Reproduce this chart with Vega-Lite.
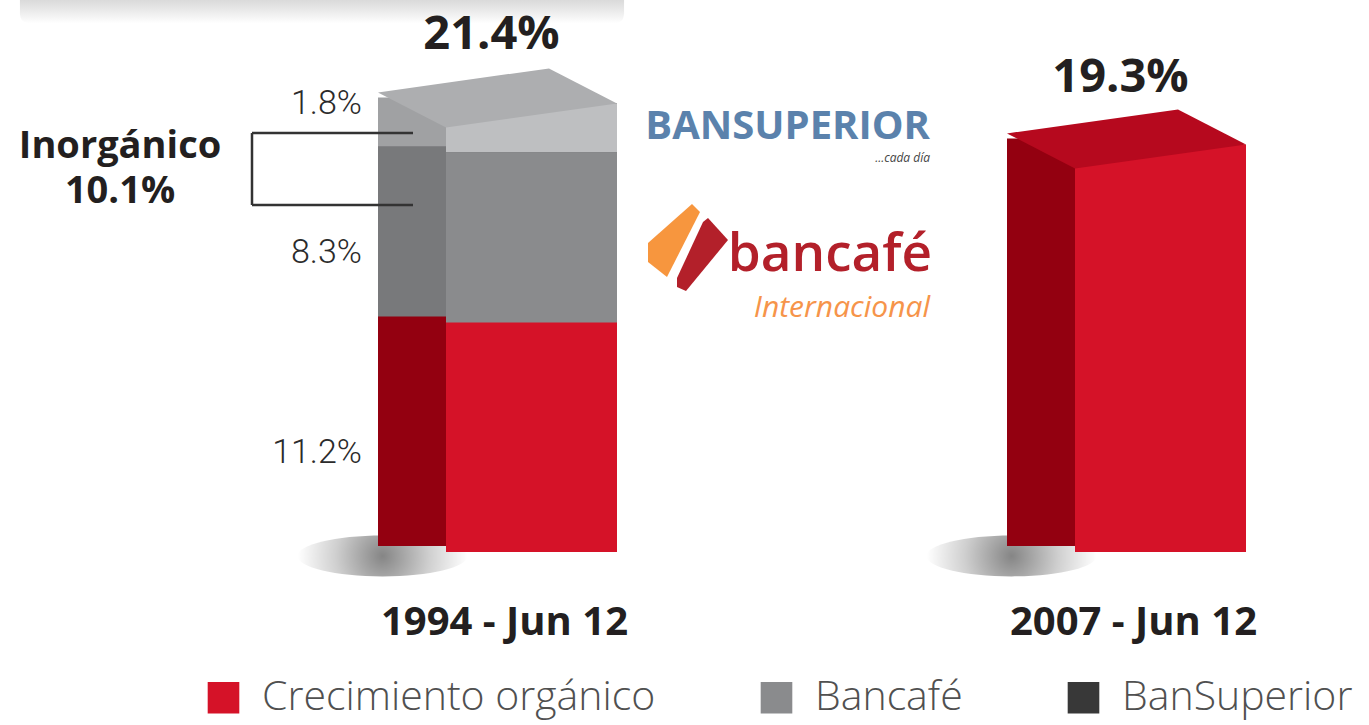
{
  "$schema": "https://vega.github.io/schema/vega-lite/v6.json",
  "width": 1369,
  "height": 725,
  "autosize": {"type": "none"},
  "padding": 0,
  "background": "#ffffff",
  "config": {"view": {"stroke": null}, "font": "Open Sans"},
  "datasets": {
    "growth": [
      {"category": "1994 - Jun 12", "series": "Crecimiento orgánico", "value": 11.2},
      {"category": "1994 - Jun 12", "series": "Bancafé", "value": 8.3},
      {"category": "1994 - Jun 12", "series": "BanSuperior", "value": 1.8},
      {"category": "2007 - Jun 12", "series": "Crecimiento orgánico", "value": 19.3}
    ],
    "totals": [
      {"category": "1994 - Jun 12", "total": 21.4},
      {"category": "2007 - Jun 12", "total": 19.3}
    ]
  },
  "data": {"name": "growth"},
  "transform": [
    {"calculate": "indexof(['Crecimiento orgánico','Bancafé','BanSuperior'], datum.series)", "as": "ord"},
    {"stack": "value", "groupby": ["category"], "sort": [{"field": "ord", "order": "ascending"}], "as": ["v0", "v1"]},
    {"calculate": "(datum.v0 + datum.v1) / 2", "as": "mid"},
    {"joinaggregate": [{"op": "max", "field": "ord", "as": "maxOrd"}], "groupby": ["category"]}
  ],
  "encoding": {
    "x": {"field": "category", "type": "nominal", "scale": {"domain": ["1994 - Jun 12", "2007 - Jun 12"], "range": [183, 1441], "paddingInner": 0, "paddingOuter": 0}, "axis": null}
  },
  "layer": [
    {
      "transform": [{"filter": "datum.series === 'BanSuperior'"}],
      "mark": {"type": "point", "shape": "M-0.863,-0.06 L0.863,-0.06 L0.863,0.02 Q0.863,0.05 0.83,0.05 L-0.83,0.05 Q-0.863,0.05 -0.863,0.02 Z", "size": 490000, "filled": true, "opacity": 1, "strokeWidth": 0, "xOffset": -175.5, "yOffset": 6,
        "fill": {"gradient": "linear", "x1": 0, "y1": 0, "x2": 0, "y2": 1, "stops": [{"offset": 0, "color": "#c4c4c4"}, {"offset": 0.6, "color": "#e6e6e6"}, {"offset": 1, "color": "#ffffff"}]}},
      "encoding": {"y": {"datum": 26.93, "type": "quantitative", "scale": {"domain": [-8.44, 26.93], "nice": false, "zero": false}, "axis": null}}
    },
    {
      "transform": [{"filter": "datum.series === 'Crecimiento orgánico'"}],
      "mark": {"type": "point", "shape": "M-1,0 A1,0.24 0 1,0 1,0 A1,0.24 0 1,0 -1,0 Z", "size": 28900, "filled": true, "opacity": 1, "strokeWidth": 0, "xOffset": -115, "yOffset": 4,
        "fill": {"gradient": "radial", "x1": 0.5, "y1": 0.5, "r1": 0, "x2": 0.5, "y2": 0.5, "r2": 0.5, "stops": [{"offset": 0, "color": "#858585"}, {"offset": 0.55, "color": "#cfcfcf"}, {"offset": 1, "color": "#ffffff"}]}},
      "encoding": {"y": {"datum": 0, "type": "quantitative", "scale": {"domain": [-8.44, 26.93], "nice": false, "zero": false}, "axis": null}}
    },
    {
      "mark": {"type": "bar", "width": 68, "xOffset": -85.5, "yOffset": -18, "y2Offset": -6},
      "encoding": {
        "y": {"field": "v1", "type": "quantitative", "scale": {"domain": [-8.44, 26.93], "nice": false, "zero": false}, "axis": null},
        "y2": {"field": "v0"},
        "fill": {"condition": [{"test": "datum.series === 'Crecimiento orgánico'", "value": "#930010"}, {"test": "datum.series === 'Bancafé'", "value": "#78797B"}], "value": "#A0A1A3"}
      }
    },
    {
      "mark": {"type": "bar", "width": 171, "xOffset": 34, "yOffset": -12},
      "encoding": {
        "y": {"field": "v1", "type": "quantitative", "scale": {"domain": [-8.44, 26.93], "nice": false, "zero": false}, "axis": null},
        "y2": {"field": "v0"},
        "color": {"field": "series", "type": "nominal",
          "scale": {"domain": ["Crecimiento orgánico", "Bancafé", "BanSuperior"], "range": ["#D51228", "#8A8B8D", "#383838"]},
          "legend": {"title": null, "orient": "none", "legendX": 203, "legendY": 677, "direction": "horizontal", "symbolType": "square", "symbolSize": 1000, "symbolStrokeWidth": 0, "symbolOpacity": 1, "labelFont": "Open Sans", "labelFontWeight": 300, "labelFontSize": 41, "labelColor": "#505050", "labelLimit": 0, "labelOffset": 18, "columnPadding": 100, "padding": 0}}
      }
    },
    {
      "transform": [{"filter": "datum.series === 'BanSuperior'"}],
      "mark": {"type": "bar", "width": 171, "xOffset": 34, "yOffset": -12, "color": "#BEBFC1"},
      "encoding": {
        "y": {"field": "v1", "type": "quantitative", "scale": {"domain": [-8.44, 26.93], "nice": false, "zero": false}, "axis": null},
        "y2": {"field": "v0"}
      }
    },
    {
      "transform": [{"filter": "datum.ord === datum.maxOrd"}],
      "mark": {"type": "point", "shape": "M-0.996,-0.05 L-0.429,0.242 L0.996,0.042 L0.429,-0.25 Z", "size": 57600, "filled": true, "opacity": 1, "strokeWidth": 0, "yOffset": -17},
      "encoding": {
        "y": {"field": "v1", "type": "quantitative", "scale": {"domain": [-8.44, 26.93], "nice": false, "zero": false}, "axis": null},
        "fill": {"condition": {"test": "datum.series === 'BanSuperior'", "value": "#ADAEB0"}, "value": "#B6091E"}
      }
    },
    {
      "data": {"name": "totals"},
      "transform": [{"calculate": "format(datum.total, '.1f') + '%'", "as": "label"}],
      "mark": {"type": "text", "font": "Open Sans", "fontWeight": "bold", "fontSize": 47, "color": "#231F20", "dy": -64, "baseline": "alphabetic", "xOffset": -6},
      "encoding": {
        "y": {"field": "total", "type": "quantitative", "scale": {"domain": [-8.44, 26.93], "nice": false, "zero": false}, "axis": null},
        "text": {"field": "label"}
      }
    },
    {
      "transform": [{"filter": "datum.category === '1994 - Jun 12' && datum.series !== 'BanSuperior'"}, {"calculate": "format(datum.value, '.1f') + '%'", "as": "label"}],
      "mark": {"type": "text", "align": "right", "baseline": "middle", "dx": -135.5, "dy": 16, "fontSize": 34, "font": "Roboto", "fontWeight": 300, "color": "#2b2b2b"},
      "encoding": {
        "y": {"field": "mid", "type": "quantitative", "scale": {"domain": [-8.44, 26.93], "nice": false, "zero": false}, "axis": null},
        "text": {"field": "label"}
      }
    },
    {
      "transform": [{"filter": "datum.series === 'BanSuperior'"}, {"calculate": "format(datum.value, '.1f') + '%'", "as": "label"}],
      "mark": {"type": "text", "align": "right", "baseline": "middle", "dx": -135.5, "dy": -30, "fontSize": 34, "font": "Roboto", "fontWeight": 300, "color": "#2b2b2b"},
      "encoding": {
        "y": {"field": "mid", "type": "quantitative", "scale": {"domain": [-8.44, 26.93], "nice": false, "zero": false}, "axis": null},
        "text": {"field": "label"}
      }
    },
    {
      "transform": [{"filter": "datum.series === 'Crecimiento orgánico'"}],
      "mark": {"type": "text", "fontSize": 40, "fontWeight": "bold", "font": "Open Sans", "color": "#231F20", "dy": 71, "dx": 7, "baseline": "middle"},
      "encoding": {
        "y": {"datum": 0, "type": "quantitative", "scale": {"domain": [-8.44, 26.93], "nice": false, "zero": false}, "axis": null},
        "text": {"field": "category"}
      }
    },
    {
      "transform": [{"filter": "datum.series === 'BanSuperior'"}],
      "mark": {"type": "rule", "color": "#333333", "strokeWidth": 2.5, "xOffset": -245.5, "x2Offset": -84.5},
      "encoding": {
        "x2": {"field": "category"},
        "y": {"datum": 20.44, "type": "quantitative", "scale": {"domain": [-8.44, 26.93], "nice": false, "zero": false}, "axis": null}
      }
    },
    {
      "transform": [{"filter": "datum.series === 'BanSuperior'"}],
      "mark": {"type": "rule", "color": "#333333", "strokeWidth": 2.5, "xOffset": -245.5, "x2Offset": -84.5},
      "encoding": {
        "x2": {"field": "category"},
        "y": {"datum": 16.93, "type": "quantitative", "scale": {"domain": [-8.44, 26.93], "nice": false, "zero": false}, "axis": null}
      }
    },
    {
      "transform": [{"filter": "datum.series === 'BanSuperior'"}],
      "mark": {"type": "rule", "color": "#333333", "strokeWidth": 2.5, "xOffset": -245.5},
      "encoding": {
        "y": {"datum": 20.44, "type": "quantitative", "scale": {"domain": [-8.44, 26.93], "nice": false, "zero": false}, "axis": null},
        "y2": {"datum": 16.93}
      }
    },
    {
      "transform": [{"filter": "datum.series === 'BanSuperior'"}],
      "mark": {"type": "text", "text": "Inorgánico", "fontSize": 38, "fontWeight": "bold", "font": "Open Sans", "color": "#231F20", "align": "center", "baseline": "middle", "dx": -377.5, "dy": -405},
      "encoding": {"y": {"datum": 0, "type": "quantitative", "scale": {"domain": [-8.44, 26.93], "nice": false, "zero": false}, "axis": null}}
    },
    {
      "transform": [{"filter": "datum.series === 'BanSuperior'"}],
      "mark": {"type": "text", "text": "10.1%", "fontSize": 38, "fontWeight": "bold", "font": "Open Sans", "color": "#231F20", "align": "center", "baseline": "middle", "dx": -377.5, "dy": -360},
      "encoding": {"y": {"datum": 0, "type": "quantitative", "scale": {"domain": [-8.44, 26.93], "nice": false, "zero": false}, "axis": null}}
    },
    {
      "transform": [{"filter": "datum.series === 'BanSuperior'"}],
      "mark": {"type": "text", "text": "BANSUPERIOR", "fontSize": 40, "fontWeight": "bold", "font": "Open Sans", "color": "#5B82AC", "align": "right", "baseline": "alphabetic", "dx": 432.5, "dy": -413},
      "encoding": {"y": {"datum": 0, "type": "quantitative", "scale": {"domain": [-8.44, 26.93], "nice": false, "zero": false}, "axis": null}}
    },
    {
      "transform": [{"filter": "datum.series === 'BanSuperior'"}],
      "mark": {"type": "text", "text": "...cada día", "fontSize": 12, "fontStyle": "italic", "font": "Open Sans", "color": "#444444", "align": "right", "baseline": "alphabetic", "dx": 432.5, "dy": -390},
      "encoding": {"y": {"datum": 0, "type": "quantitative", "scale": {"domain": [-8.44, 26.93], "nice": false, "zero": false}, "axis": null}}
    },
    {
      "transform": [{"filter": "datum.series === 'Bancafé'"}],
      "mark": {"type": "text", "text": "bancafé", "fontSize": 53, "fontWeight": 600, "font": "Open Sans", "color": "#B3202A", "align": "right", "baseline": "alphabetic", "dx": 434.5, "dy": -281},
      "encoding": {"y": {"datum": 0, "type": "quantitative", "scale": {"domain": [-8.44, 26.93], "nice": false, "zero": false}, "axis": null}}
    },
    {
      "transform": [{"filter": "datum.series === 'Bancafé'"}],
      "mark": {"type": "text", "text": "Internacional", "fontSize": 30, "fontStyle": "italic", "font": "Open Sans", "color": "#F6944A", "align": "right", "baseline": "alphabetic", "dx": 432.5, "dy": -235},
      "encoding": {"y": {"datum": 0, "type": "quantitative", "scale": {"domain": [-8.44, 26.93], "nice": false, "zero": false}, "axis": null}}
    },
    {
      "transform": [{"filter": "datum.series === 'Bancafé'"}],
      "mark": {"type": "point", "shape": "M0.04,-0.88 L0.2,-0.72 L-0.46,0.58 L-0.84,0.28 L-0.84,-0.1 Z", "size": 10000, "filled": true, "opacity": 1, "strokeWidth": 0, "color": "#F7963E", "xOffset": 192.5, "yOffset": -304},
      "encoding": {"y": {"datum": 0, "type": "quantitative", "scale": {"domain": [-8.44, 26.93], "nice": false, "zero": false}, "axis": null}}
    },
    {
      "transform": [{"filter": "datum.series === 'Bancafé'"}],
      "mark": {"type": "point", "shape": "M0.36,-0.6 L0.76,-0.16 L-0.08,0.86 L-0.26,0.78 L-0.26,0.6 L0.26,-0.52 Z", "size": 10000, "filled": true, "opacity": 1, "strokeWidth": 0, "color": "#B3202A", "xOffset": 192.5, "yOffset": -304},
      "encoding": {"y": {"datum": 0, "type": "quantitative", "scale": {"domain": [-8.44, 26.93], "nice": false, "zero": false}, "axis": null}}
    }
  ]
}
